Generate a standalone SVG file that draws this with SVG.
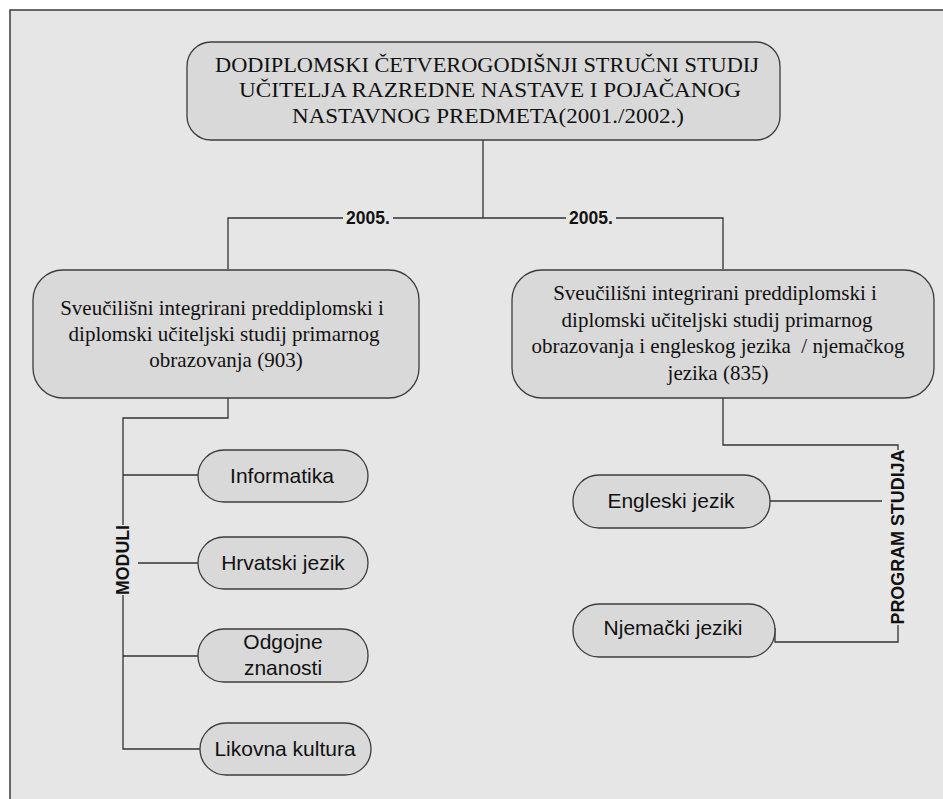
<svg xmlns="http://www.w3.org/2000/svg" width="943" height="799" viewBox="0 0 943 799">
<style>
.bg{fill:#e6e6e6}
.frame{stroke:#3a3a3a;stroke-width:1.5;fill:none}
.box{fill:#d9d9d9;stroke:#3c3c3c;stroke-width:1.3}
.ser{font-family:"Liberation Serif","Times New Roman",serif;fill:#111;text-anchor:middle}
.top{font-size:22px}
.mid{font-size:21px}
.san{font-family:"Liberation Sans",Arial,sans-serif;font-size:21px;fill:#111;text-anchor:middle}
.lbl{font-family:"Liberation Sans",Arial,sans-serif;font-weight:bold;font-size:17.5px;fill:#111;text-anchor:middle}
.con{stroke:#333;stroke-width:1.3;fill:none}
</style>
<rect x="0" y="0" width="943" height="799" fill="#ffffff"/>
<rect class="bg" x="10" y="10" width="933" height="789"/>
<path class="frame" d="M10,799 V10 H943"/>

<g id="connectors">
<path class="con" d="M483,140 V218 M228,269 V218 H723 V269"/>
<path class="con" d="M228,398 V418 H123 V525 M123,595 V749 H200"/>
<path class="con" d="M123,475 H198 M138,563 H198 M123,656 H198"/>
<path class="con" d="M723,398 V445 H898 V450 M898,625 V642 H775 V628"/>
<path class="con" d="M770,501 H882"/>
<rect class="bg" x="343" y="207" width="50" height="20"/>
<text class="lbl" x="368" y="224">2005.</text>
<rect class="bg" x="566" y="207" width="50" height="20"/>
<text class="lbl" x="591" y="224">2005.</text>
<text class="lbl" transform="translate(129,560) rotate(-90)" textLength="70" lengthAdjust="spacingAndGlyphs">MODULI</text>
<text class="lbl" transform="translate(904,537) rotate(-90)" textLength="175" lengthAdjust="spacingAndGlyphs">PROGRAM STUDIJA</text>
</g>

<g id="top">
<rect class="box" x="187" y="42" width="593" height="98" rx="24"/>
<text class="ser top" x="487" y="72" textLength="544" lengthAdjust="spacingAndGlyphs">DODIPLOMSKI ČETVEROGODIŠNJI STRUČNI STUDIJ</text>
<text class="ser top" x="490" y="97" textLength="502" lengthAdjust="spacingAndGlyphs">UČITELJA RAZREDNE NASTAVE I POJAČANOG</text>
<text class="ser top" x="488" y="123" textLength="392" lengthAdjust="spacingAndGlyphs">NASTAVNOG PREDMETA(2001./2002.)</text>
</g>

<g id="left">
<rect class="box" x="33" y="270" width="386" height="128" rx="30"/>
<text class="ser mid" x="222" y="315">Sveučilišni integrirani preddiplomski i</text>
<text class="ser mid" x="224" y="341">diplomski učiteljski studij primarnog</text>
<text class="ser mid" x="226" y="367">obrazovanja (903)</text>
</g>

<g id="right">
<rect class="box" x="512" y="270" width="422" height="128" rx="30"/>
<text class="ser mid" x="715" y="300">Sveučilišni integrirani preddiplomski i</text>
<text class="ser mid" x="717" y="327">diplomski učiteljski studij primarnog</text>
<text class="ser mid" x="718" y="353" xml:space="preserve">obrazovanja i engleskog jezika  / njemačkog</text>
<text class="ser mid" x="718" y="380">jezika (835)</text>
</g>

<g id="informatika">
<rect class="box" x="198" y="450" width="170" height="52" rx="26"/>
<text class="san" x="282" y="483">Informatika</text>
</g>
<g id="hrvatski">
<rect class="box" x="198" y="537" width="170" height="52" rx="26"/>
<text class="san" x="283" y="570">Hrvatski jezik</text>
</g>
<g id="odgojne">
<rect class="box" x="198" y="629" width="170" height="53" rx="26"/>
<text class="san" x="283" y="649">Odgojne</text>
<text class="san" x="283" y="675">znanosti</text>
</g>
<g id="likovna">
<rect class="box" x="200" y="723" width="171" height="52" rx="26"/>
<text class="san" x="285" y="756">Likovna kultura</text>
</g>
<g id="engleski">
<rect class="box" x="573" y="475" width="197" height="53" rx="26"/>
<text class="san" x="671" y="508">Engleski jezik</text>
</g>
<g id="njemacki">
<rect class="box" x="573" y="604" width="202" height="53" rx="26"/>
<text class="san" x="673" y="635">Njemački jeziki</text>
</g>
</svg>
